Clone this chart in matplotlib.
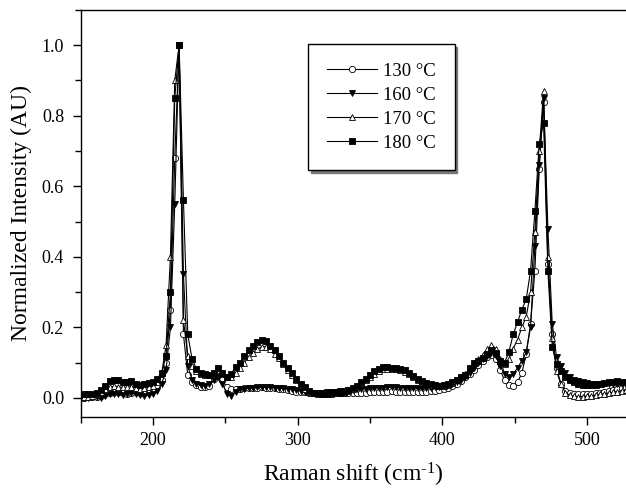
import matplotlib
matplotlib.use("Agg")
import matplotlib.pyplot as plt
from matplotlib.ticker import MultipleLocator, FormatStrFormatter

plt.rcParams["font.family"] = ["Liberation Serif", "DejaVu Serif"]
plt.rcParams["mathtext.fontset"] = "custom"
plt.rcParams["mathtext.rm"] = "Liberation Serif"
plt.rcParams["mathtext.it"] = "Liberation Serif:italic"

# Raman shift (cm-1), sampled every 3 cm-1
shift = [149, 152, 155, 158, 161, 164, 167, 170, 173, 176, 179, 182, 185, 188, 191, 194,
         197, 200, 203, 206, 209, 212, 215, 218, 221, 224, 227, 230, 233, 236, 239, 242,
         245, 248, 251, 254, 257, 260, 263, 266, 269, 272, 275, 278, 281, 284, 287, 290,
         293, 296, 299, 302, 305, 308, 311, 314, 317, 320, 323, 326, 329, 332, 335, 338,
         341, 344, 347, 350, 353, 356, 359, 362, 365, 368, 371, 374, 377, 380, 383, 386,
         389, 392, 395, 398, 401, 404, 407, 410, 413, 416, 419, 422, 425, 428, 431, 434,
         437, 440, 443, 446, 449, 452, 455, 458, 461, 464, 467, 470, 473, 476, 479, 482,
         485, 488, 491, 494, 497, 500, 503, 506, 509, 512, 515, 518, 521, 524, 527, 530]

t130 = [0.000, 0.000, 0.002, 0.003, 0.004, 0.006, 0.010, 0.014, 0.016, 0.018, 0.015, 0.012, 0.015, 0.018, 0.015, 0.014,
        0.018, 0.024, 0.035, 0.050, 0.100, 0.250, 0.680, 1.000, 0.180, 0.065, 0.045, 0.038, 0.032, 0.030, 0.035, 0.055,
        0.070, 0.050, 0.030, 0.026, 0.025, 0.026, 0.027, 0.028, 0.028, 0.029, 0.030, 0.029, 0.028, 0.027, 0.025, 0.024,
        0.022, 0.020, 0.018, 0.017, 0.016, 0.015, 0.014, 0.014, 0.013, 0.013, 0.013, 0.014, 0.014, 0.013, 0.013, 0.014,
        0.014, 0.015, 0.015, 0.016, 0.016, 0.017, 0.018, 0.018, 0.019, 0.018, 0.018, 0.017, 0.016, 0.016, 0.016, 0.017,
        0.018, 0.019, 0.020, 0.022, 0.024, 0.028, 0.033, 0.040, 0.048, 0.058, 0.068, 0.080, 0.092, 0.105, 0.115, 0.122,
        0.110, 0.080, 0.050, 0.036, 0.034, 0.045, 0.070, 0.125, 0.210, 0.360, 0.650, 0.840, 0.380, 0.180, 0.085, 0.040,
        0.020, 0.013, 0.010, 0.010, 0.011, 0.012, 0.012, 0.013, 0.015, 0.017, 0.019, 0.022, 0.025, 0.028, 0.030, 0.030]

t160 = [0.002, 0.000, 0.001, 0.003, 0.002, 0.000, 0.006, 0.010, 0.012, 0.010, 0.008, 0.010, 0.014, 0.012, 0.008, 0.005,
        0.008, 0.012, 0.020, 0.040, 0.080, 0.200, 0.550, 1.000, 0.350, 0.090, 0.050, 0.040, 0.036, 0.034, 0.040, 0.050,
        0.058, 0.040, 0.012, 0.006, 0.018, 0.024, 0.026, 0.027, 0.028, 0.030, 0.030, 0.031, 0.030, 0.029, 0.028, 0.027,
        0.026, 0.024, 0.022, 0.020, 0.018, 0.016, 0.015, 0.014, 0.015, 0.016, 0.017, 0.018, 0.020, 0.021, 0.022, 0.023,
        0.024, 0.025, 0.026, 0.027, 0.028, 0.028, 0.029, 0.030, 0.030, 0.030, 0.029, 0.028, 0.028, 0.027, 0.027, 0.027,
        0.028, 0.029, 0.030, 0.032, 0.034, 0.037, 0.040, 0.045, 0.052, 0.060, 0.072, 0.085, 0.098, 0.110, 0.120, 0.128,
        0.118, 0.090, 0.068, 0.060, 0.068, 0.085, 0.105, 0.130, 0.200, 0.430, 0.660, 0.850, 0.480, 0.210, 0.115, 0.090,
        0.070, 0.060, 0.052, 0.048, 0.045, 0.042, 0.040, 0.040, 0.040, 0.040, 0.040, 0.040, 0.040, 0.040, 0.038, 0.036]

t170 = [0.000, 0.002, 0.003, 0.005, 0.010, 0.018, 0.025, 0.030, 0.033, 0.032, 0.030, 0.030, 0.032, 0.028, 0.025, 0.028,
        0.030, 0.035, 0.045, 0.070, 0.150, 0.400, 0.900, 1.000, 0.220, 0.120, 0.090, 0.075, 0.068, 0.065, 0.064, 0.070,
        0.080, 0.072, 0.058, 0.060, 0.070, 0.085, 0.100, 0.115, 0.128, 0.138, 0.145, 0.145, 0.138, 0.125, 0.112, 0.095,
        0.078, 0.064, 0.050, 0.036, 0.026, 0.018, 0.013, 0.012, 0.010, 0.010, 0.012, 0.013, 0.013, 0.015, 0.019, 0.025,
        0.032, 0.041, 0.051, 0.060, 0.069, 0.076, 0.081, 0.083, 0.082, 0.081, 0.079, 0.074, 0.067, 0.059, 0.052, 0.046,
        0.041, 0.038, 0.036, 0.034, 0.035, 0.038, 0.043, 0.050, 0.058, 0.068, 0.085, 0.100, 0.110, 0.122, 0.138, 0.150,
        0.140, 0.110, 0.095, 0.110, 0.140, 0.165, 0.200, 0.230, 0.300, 0.470, 0.700, 0.870, 0.400, 0.170, 0.075, 0.040,
        0.015, 0.008, 0.005, 0.004, 0.004, 0.005, 0.006, 0.008, 0.010, 0.012, 0.014, 0.016, 0.018, 0.020, 0.022, 0.022]

t180 = [0.012, 0.012, 0.010, 0.010, 0.015, 0.022, 0.035, 0.048, 0.052, 0.050, 0.045, 0.046, 0.048, 0.040, 0.036, 0.040,
        0.042, 0.045, 0.055, 0.072, 0.120, 0.300, 0.850, 1.000, 0.560, 0.180, 0.110, 0.082, 0.072, 0.068, 0.066, 0.072,
        0.085, 0.072, 0.058, 0.068, 0.088, 0.100, 0.118, 0.135, 0.148, 0.158, 0.165, 0.160, 0.148, 0.135, 0.120, 0.100,
        0.085, 0.072, 0.055, 0.040, 0.030, 0.020, 0.015, 0.014, 0.012, 0.012, 0.015, 0.016, 0.015, 0.018, 0.022, 0.028,
        0.035, 0.045, 0.055, 0.065, 0.075, 0.082, 0.087, 0.088, 0.086, 0.085, 0.083, 0.078, 0.070, 0.062, 0.055, 0.048,
        0.043, 0.040, 0.037, 0.035, 0.036, 0.040, 0.045, 0.052, 0.058, 0.066, 0.085, 0.100, 0.105, 0.112, 0.125, 0.135,
        0.128, 0.105, 0.100, 0.130, 0.180, 0.215, 0.250, 0.280, 0.360, 0.530, 0.720, 0.780, 0.360, 0.145, 0.095, 0.075,
        0.060, 0.052, 0.045, 0.040, 0.038, 0.037, 0.036, 0.038, 0.040, 0.042, 0.044, 0.046, 0.048, 0.045, 0.045, 0.044]

labels = ["130 °C", "160 °C", "170 °C", "180 °C"]

fig = plt.figure(figsize=(6.26, 4.90), dpi=100)
ax = fig.add_axes([0.129, 0.149, 0.871, 0.831])

ms = 4.5
ax.plot(shift, t130, "-o", color="black", lw=0.8, ms=ms, mfc="white", mec="black", mew=0.6, label=labels[0])
ax.plot(shift, t160, "-v", color="black", lw=0.8, ms=ms, mfc="black", mec="black", mew=0.6, label=labels[1])
ax.plot(shift, t170, "-^", color="black", lw=0.8, ms=ms, mfc="white", mec="black", mew=0.6, label=labels[2])
ax.plot(shift, t180, "-s", color="black", lw=0.8, ms=ms - 0.5, mfc="black", mec="black", mew=0.6, label=labels[3])

ax.set_xlim(150, 527)
ax.set_ylim(-0.054, 1.1)
ax.xaxis.set_major_locator(MultipleLocator(100))
ax.xaxis.set_minor_locator(MultipleLocator(50))
ax.yaxis.set_major_locator(MultipleLocator(0.2))
ax.yaxis.set_minor_locator(MultipleLocator(0.1))
ax.yaxis.set_major_formatter(FormatStrFormatter("%.1f"))
ax.tick_params(which="major", direction="out", length=6, width=1.0, labelsize=13, pad=5)
ax.tick_params(which="minor", direction="out", length=4, width=1.0)
ax.tick_params(axis="y", pad=6)
for s in ["left", "bottom", "top"]:
    ax.spines[s].set_linewidth(1.0)
ax.spines["right"].set_visible(False)

ax.set_xlabel("Raman shift (cm$^{\\text{-1}}$)", fontsize=17, labelpad=8)
ax.set_ylabel("Normalized Intensity (AU)", fontsize=17, labelpad=7)

leg = ax.legend(loc="upper left", bbox_to_anchor=(308 / 626, 1 - 44 / 490),
                bbox_transform=fig.transFigure, borderaxespad=0, fontsize=13.5,
                frameon=True, fancybox=False, edgecolor="black",
                shadow={"color": "#777777", "alpha": 1.0, "ox": 2, "oy": -2},
                handlelength=2.7, handletextpad=0.3, labelspacing=0.36, borderpad=1.0)
leg.get_frame().set_linewidth(1.0)

fig.savefig("out.png", dpi=100)
